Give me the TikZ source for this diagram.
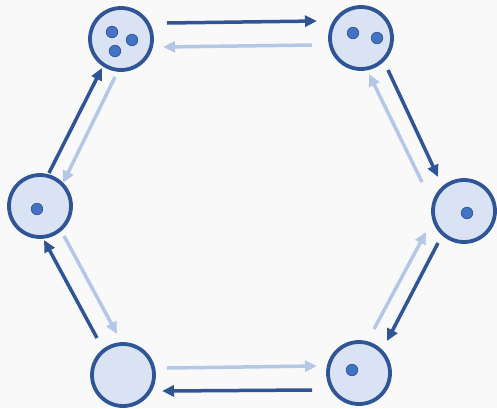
\documentclass[tikz,border=0pt]{standalone}
\usetikzlibrary{arrows.meta}
\definecolor{dk}{HTML}{2F5597}
\definecolor{fillc}{HTML}{DAE3F3}
\definecolor{dotc}{HTML}{4472C4}
\definecolor{lt}{HTML}{B4C7E7}
\definecolor{bg}{HTML}{F9F9F9}
\begin{document}
\begin{tikzpicture}[x=1pt,y=-1pt,
  state/.style={circle,draw=dk,fill=fillc,line width=3.8pt,minimum size=62pt,inner sep=0pt},
  dot/.style={circle,draw=dk,fill=dotc,line width=0.7pt,minimum size=11.5pt,inner sep=0pt},
  fw/.style={draw=dk,line width=3.5pt,-{Triangle[length=12pt,width=11pt]}},
  bw/.style={draw=lt,line width=3.5pt,-{Triangle[length=12pt,width=11pt]}}]
\fill[bg] (0,0) rectangle (497,408);
\useasboundingbox (0,0) rectangle (497,408);
% states
\node[state] (c1) at (121,39) {};
\node[state] (c2) at (361,38) {};
\node[state] (c3) at (464,211) {};
\node[state] (c4) at (359,373) {};
\node[state] (c5) at (123,375) {};
\node[state] (c6) at (40,206) {};
% dots
\node[dot] (d1a) at (112,32) {};
\node[dot] (d1b) at (132,40) {};
\node[dot] (d1c) at (115,51) {};
\node[dot] (d2a) at (353,33) {};
\node[dot] (d2b) at (377,38) {};
\node[dot] (d3) at (467,213) {};
\node[dot] (d4) at (352,370) {};
\node[dot] (d6) at (37,209) {};
% arrow end points
\coordinate (f12s) at (167,23);  \coordinate (f12e) at (317,21);
\coordinate (f23s) at (388,70);  \coordinate (f23e) at (438,177);
\coordinate (f34s) at (438,243); \coordinate (f34e) at (387,341);
\coordinate (f45s) at (312,390); \coordinate (f45e) at (162,391);
\coordinate (f56s) at (97,338);  \coordinate (f56e) at (44,240);
\coordinate (f61s) at (49,173);  \coordinate (f61e) at (102,68);
\coordinate (b21s) at (312,45);  \coordinate (b21e) at (163,47);
\coordinate (b32s) at (422,182); \coordinate (b32e) at (369,74);
\coordinate (b43s) at (374,329); \coordinate (b43e) at (426,232);
\coordinate (b54s) at (167,368); \coordinate (b54e) at (317,366);
\coordinate (b65s) at (64,236);  \coordinate (b65e) at (117,334);
\coordinate (b16s) at (115,77);  \coordinate (b16e) at (63,183);
% forward (dark)
\draw[fw] (f12s) -- (f12e);
\draw[fw] (f23s) -- (f23e);
\draw[fw] (f34s) -- (f34e);
\draw[fw] (f45s) -- (f45e);
\draw[fw] (f56s) -- (f56e);
\draw[fw] (f61s) -- (f61e);
% backward (light)
\draw[bw] (b21s) -- (b21e);
\draw[bw] (b32s) -- (b32e);
\draw[bw] (b43s) -- (b43e);
\draw[bw] (b54s) -- (b54e);
\draw[bw] (b65s) -- (b65e);
\draw[bw] (b16s) -- (b16e);
\end{tikzpicture}
\end{document}
